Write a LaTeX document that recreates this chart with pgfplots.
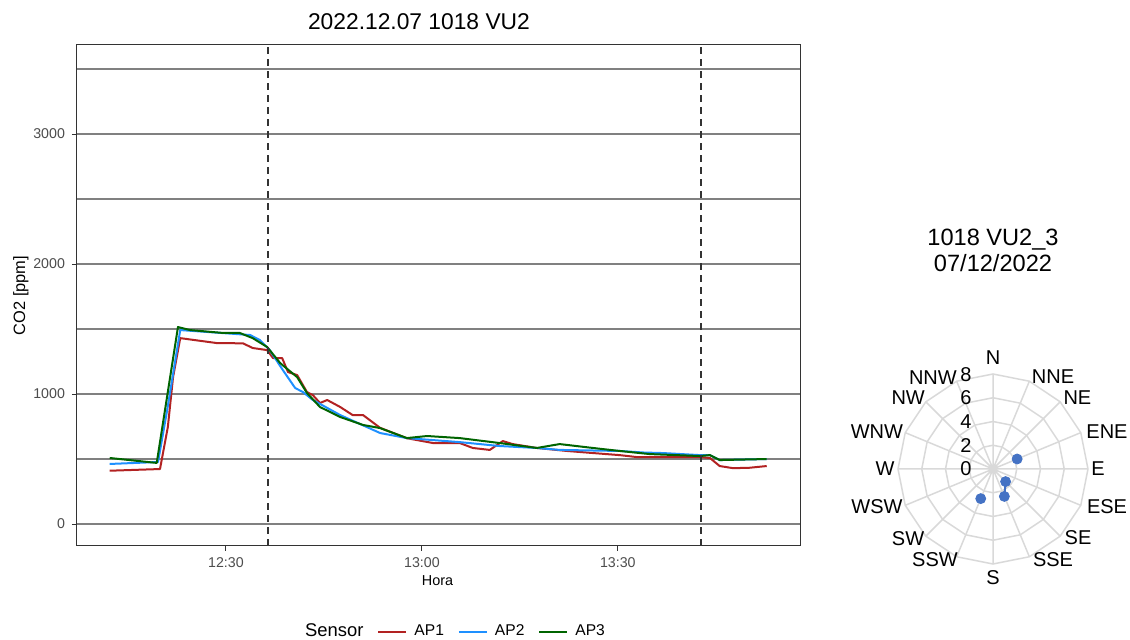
\documentclass[border=0pt]{standalone}
\usepackage{fontspec}
\setmainfont{Liberation Sans}
\usepackage{pgfplots}
\pgfplotsset{compat=1.18}
\usepgfplotslibrary{polar}

\definecolor{apred}{HTML}{B22222}
\definecolor{apblue}{HTML}{1E90FF}
\definecolor{apgreen}{HTML}{006400}
\definecolor{ptblue}{HTML}{4472C4}
\definecolor{ringgray}{HTML}{D9D9D9}
\definecolor{hgray}{HTML}{808080}
\definecolor{txtgray}{HTML}{4D4D4D}
\definecolor{framegray}{HTML}{333333}

\begin{document}
\begin{tikzpicture}
\useasboundingbox (0,0) rectangle (565pt,320pt);

% time series: x = minutes after 12:00
\begin{axis}[
  at={(38.5pt,47pt)}, anchor=south west,
  scale only axis, width=361.5pt, height=250.5pt,
  xmin=7.19, xmax=117.9, ymin=-169, ymax=3685,
  xtick={30,60,90}, xticklabels={12:30,13:00,13:30},
  ytick={0,1000,2000,3000},
  extra y ticks={500,1500,2500,3500}, extra y tick labels={},
  extra y tick style={major tick length=0pt, grid=major},
  ymajorgrids,
  major grid style={hgray, line width=0.6pt},
  axis line style={framegray, line width=0.5pt},
  tick style={framegray, line width=0.5pt},
  tick align=outside, major tick length=2.5pt,
  xtick pos=left, ytick pos=left,
  ticklabel style={txtgray, font=\fontsize{7.1}{8}\selectfont},
  /pgf/number format/assume math mode=true,
  /pgf/number format/set thousands separator={},
  scaled y ticks=false,
  title={2022.12.07 1018 VU2},
  title style={at={(axis description cs:0.473,1.046)}, anchor=center, yshift=-6pt, font=\fontsize{11.4}{13}\selectfont},
  xlabel={Hora},
  xlabel style={at={(axis description cs:0.4986,-0.07)}, anchor=center, font=\fontsize{7.2}{8}\selectfont},
  ylabel={CO2 [ppm]},
  ylabel style={at={(axis description cs:-0.0775,0.5)}, anchor=center, font=\fontsize{8.2}{9}\selectfont},
  legend style={at={(0.5208,-0.1717)}, anchor=center, draw=none, fill=none,
    legend columns=-1, font=\fontsize{7.8}{9}\selectfont,
    /tikz/every odd column/.append style={column sep=1.5pt},
    /tikz/every even column/.append style={column sep=5pt}},
  legend image code/.code={\draw[#1, line width=1pt] (0pt,0pt) -- (14pt,0pt);},
  every axis plot/.append style={line width=1pt, line join=round},
]
\addlegendimage{empty legend}
\addlegendentry{\fontsize{9.2}{10}\selectfont Sensor}

\addplot[apred] coordinates {
(12.2,410) (19.9,423) (21.1,746) (21.9,1130) (23.0,1430) (28.6,1392)
(32.6,1390) (34.1,1354) (36.3,1338) (37.2,1277) (38.6,1277) (39.5,1169)
(40.9,1146) (42.4,1015) (43.3,992) (44.4,931) (45.5,954) (47.5,900)
(49.4,838) (51.0,838) (53.6,740) (57.7,660) (61.7,623) (65.8,623)
(67.8,585) (70.4,570) (71.5,608) (72.4,638) (73.9,615) (77.6,585)
(82.2,562) (86.2,546) (90.3,530) (92.9,515) (102.6,515) (104.1,508)
(105.6,446) (107.6,430) (110.0,432) (112.8,446)};
\addlegendentry{AP1}

\addplot[apblue] coordinates {
(12.2,462) (19.6,477) (21.0,877) (23.0,1492) (33.7,1454) (35.2,1415)
(36.7,1338) (38.7,1185) (40.6,1046) (41.8,1015) (43.3,954) (47.5,838)
(53.6,700) (57.7,661) (65.8,630) (71.9,600) (77.6,585) (81.1,570)
(90.3,562) (94.0,550) (96.9,546) (102.6,530) (104.1,530) (105.6,492)
(112.8,500)};
\addlegendentry{AP2}

\addplot[apgreen] coordinates {
(12.2,508) (19.4,470) (22.65,1515) (24.5,1492) (29.5,1470) (32.1,1470)
(34.1,1430) (36.3,1362) (38.3,1238) (40.9,1130) (42.4,1008) (44.4,900)
(47.5,823) (51.0,762) (53.6,738) (57.7,661) (60.8,677) (65.8,661)
(71.9,623) (77.6,585) (81.1,615) (86.2,585) (90.3,562) (94.9,538)
(102.6,523) (104.1,530) (105.6,492) (112.8,500)};
\addlegendentry{AP3}

\addplot[forget plot, framegray, dash pattern=on 3.5pt off 2.5pt] coordinates {(36.4,-169) (36.4,3685)};
\addplot[forget plot, framegray, dash pattern=on 3.5pt off 2.5pt] coordinates {(102.7,-169) (102.7,3685)};
\end{axis}

% wind rose
\begin{polaraxis}[
  at={(496.5pt,85.5pt)}, anchor=origin,
  scale only axis, width=95pt, height=95pt,
  ymin=0, ymax=8, ytick=\empty,
  xtick={0,22.5,45,67.5,90,112.5,135,157.5,180,202.5,225,247.5,270,292.5,315,337.5},
  xticklabels={},
  xmajorgrids, major grid style={ringgray, line width=0.75pt},
  axis line style={draw=none}, major tick length=0pt,
  clip=false,
]
\addplot[ringgray, line width=0.75pt] coordinates {(0,2) (22.5,2) (45,2) (67.5,2) (90,2) (112.5,2) (135,2) (157.5,2) (180,2) (202.5,2) (225,2) (247.5,2) (270,2) (292.5,2) (315,2) (337.5,2) (360,2)};
\addplot[ringgray, line width=0.75pt] coordinates {(0,4) (22.5,4) (45,4) (67.5,4) (90,4) (112.5,4) (135,4) (157.5,4) (180,4) (202.5,4) (225,4) (247.5,4) (270,4) (292.5,4) (315,4) (337.5,4) (360,4)};
\addplot[ringgray, line width=0.75pt] coordinates {(0,6) (22.5,6) (45,6) (67.5,6) (90,6) (112.5,6) (135,6) (157.5,6) (180,6) (202.5,6) (225,6) (247.5,6) (270,6) (292.5,6) (315,6) (337.5,6) (360,6)};
\addplot[ringgray, line width=0.75pt] coordinates {(0,8) (22.5,8) (45,8) (67.5,8) (90,8) (112.5,8) (135,8) (157.5,8) (180,8) (202.5,8) (225,8) (247.5,8) (270,8) (292.5,8) (315,8) (337.5,8) (360,8)};

\addplot[ptblue, line width=1pt] coordinates {(315,1.5) (292.5,2.5)};
\addplot[only marks, mark=*, mark size=2.5pt, ptblue] coordinates {(22.5,2.2) (315,1.5) (292.5,2.5) (247.5,2.7)};

\begin{scope}[every node/.style={font=\fontsize{10}{11}\selectfont, anchor=center, inner sep=0pt}]
\node at (axis cs:90,9.35) {N};
\node at (axis cs:56.9,9.25) {NNE};
\node at (axis cs:40.2,9.31) {NE};
\node at (axis cs:18.1,10.1) {ENE};
\node at (axis cs:0,8.84) {E};
\node at (axis cs:-18.4,10.12) {ESE};
\node at (axis cs:-39.1,9.23) {SE};
\node at (axis cs:-56.6,9.19) {SSE};
\node at (axis cs:-90,9.18) {S};
\node at (axis cs:-122.5,9.09) {SSW};
\node at (axis cs:-140.5,9.27) {SW};
\node at (axis cs:-161.9,10.28) {WSW};
\node at (axis cs:180,9.09) {W};
\node at (axis cs:162.3,10.26) {WNW};
\node at (axis cs:140.1,9.31) {NW};
\node at (axis cs:123.4,9.19) {NNW};
\node[xshift=-13.5pt] at (axis cs:90,0) {0};
\node[xshift=-13.5pt] at (axis cs:90,2) {2};
\node[xshift=-13.5pt] at (axis cs:90,4) {4};
\node[xshift=-13.5pt] at (axis cs:90,6) {6};
\node[xshift=-13.5pt] at (axis cs:90,7.95) {8};
\node[align=center, font=\fontsize{11.8}{13}\selectfont] at (axis cs:90,18.44) {1018 VU2\_3\\07/12/2022};
\end{scope}
\end{polaraxis}
\end{tikzpicture}
\end{document}
